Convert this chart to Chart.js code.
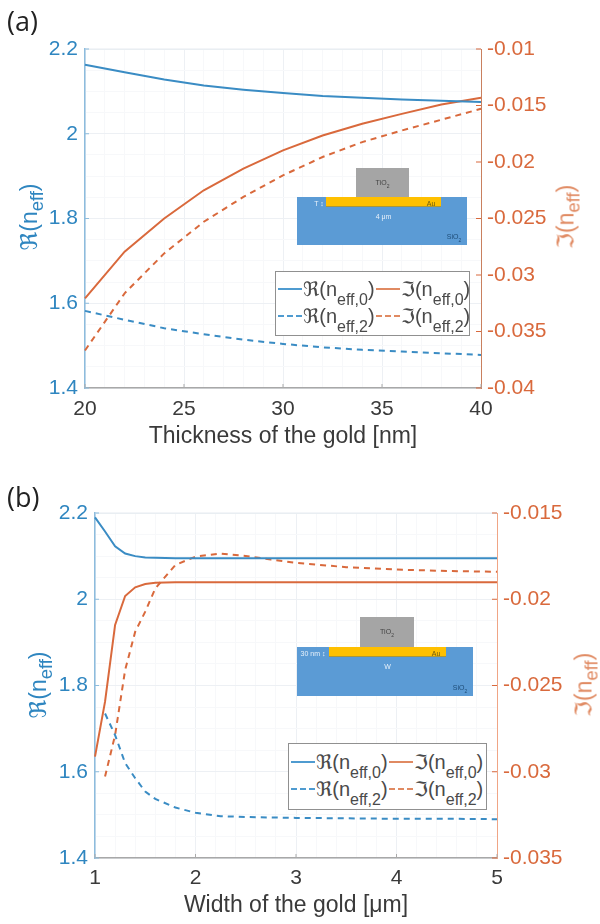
<!DOCTYPE html>
<html>
<head>
  <meta charset="utf-8">
  <title>Effective index vs gold thickness and width</title>
  <script src="https://cdn.jsdelivr.net/npm/chart.js"></script>
  <style>
    html, body { margin: 0; padding: 0; background: #fff; }
    body { width: 600px; height: 924px; position: relative; overflow: hidden; font-family: 'Liberation Sans', 'DejaVu Sans', sans-serif; filter: blur(0.45px); }
    .wrap { position: absolute; left: 0; width: 600px; }
    .panel-label { position: absolute; left: 7px; font: 27px 'Open Sans', sans-serif; color: #222; }
    .ylab { position: absolute; font-size: 23px; white-space: nowrap; transform: translate(-50%, -50%) rotate(-90deg); }
    .ylab sub { font-size: 0.8em; vertical-align: -0.35em; line-height: 0; }
    .blue { color: #2f86c0; }
    .orange { color: #e08a62; }
    .box { position: absolute; }
    .tag { position: absolute; font-size: 7px; transform: translate(-50%, -50%); white-space: nowrap; }
    .legend { position: absolute; box-sizing: border-box; background: #fff; border: 1.5px solid #909090; padding-left: 2px; display: grid; grid-template-columns: 98px 96px; align-content: center; color: #4a4a4a; font-size: 20px; }
    .legend > div { display: flex; align-items: center; white-space: nowrap; height: 30px; margin-top: -3px; }
    .legend sub { font-size: 16px; vertical-align: -9px; line-height: 0; }
    .legend i { display: inline-block; flex: none; width: 24px; margin-right: 1px; border-top-width: 2px; }
  </style>
</head>
<body>
  <div class="wrap" style="top:0;height:450px"><canvas id="chartA"></canvas></div>
  <div class="wrap" style="top:462px;height:457px"><canvas id="chartB"></canvas></div>
  <div class="panel-label" style="top:2px">(a)</div>
  <div class="panel-label" style="top:478px">(b)</div>
  <div class="ylab blue" style="left:29px;top:217px">ℜ(n<sub>eff</sub>)</div>
  <div class="ylab orange" style="left:566px;top:217px">ℑ(n<sub>eff</sub>)</div>
  <div class="ylab blue" style="left:38px;top:685px">ℜ(n<sub>eff</sub>)</div>
  <div class="ylab orange" style="left:584px;top:685px">ℑ(n<sub>eff</sub>)</div>
  <script>
    // (a) thickness sweep
    const thicknessNm = [20, 22, 24, 26, 28, 30, 32, 34, 36, 38, 40];
    const thicknessRe0 = [2.163, 2.145, 2.128, 2.114, 2.104, 2.096, 2.089, 2.085, 2.081, 2.078, 2.075];
    const thicknessIm0 = [-0.03206, -0.02794, -0.025, -0.0225, -0.02059, -0.01897, -0.01765, -0.01662, -0.01574, -0.01491, -0.01432];
    const thicknessRe2 = [1.582, 1.561, 1.541, 1.527, 1.514, 1.504, 1.496, 1.49, 1.486, 1.482, 1.478];
    const thicknessIm2 = [-0.03668, -0.03162, -0.02809, -0.02529, -0.02309, -0.02118, -0.01956, -0.01824, -0.01721, -0.01626, -0.01529];

    // (b) width sweep, mode 2 has no value at 1 um
    const widthUm = [1, 1.1, 1.2, 1.3, 1.4, 1.5, 1.6, 1.8, 2, 2.25, 2.5, 2.75, 3, 3.5, 4, 4.5, 5];
    const widthRe0 = [2.19, 2.157, 2.123, 2.106, 2.1, 2.097, 2.096, 2.095, 2.095, 2.095, 2.095, 2.095, 2.095, 2.095, 2.095, 2.095, 2.095];
    const widthIm0 = [-0.02912, -0.02594, -0.02149, -0.01981, -0.01931, -0.01912, -0.01904, -0.01902, -0.01901, -0.01901, -0.01901, -0.01901, -0.01901, -0.01901, -0.01901, -0.01901, -0.01901];
    const widthRe2 = [null, 1.735, 1.685, 1.62, 1.585, 1.554, 1.537, 1.517, 1.505, 1.497, 1.495, 1.494, 1.493, 1.492, 1.491, 1.491, 1.49];
    const widthIm2 = [null, -0.03028, -0.02787, -0.0241, -0.02188, -0.02072, -0.01937, -0.01801, -0.01753, -0.01735, -0.01749, -0.0177, -0.01789, -0.01814, -0.01828, -0.01836, -0.01841];

    // tick labels
    const reTicks = [1.4, 1.6, 1.8, 2, 2.2];
    const imTicksA = [-0.04, -0.035, -0.03, -0.025, -0.02, -0.015, -0.01];
    const imTicksB = [-0.035, -0.03, -0.025, -0.02, -0.015];
    const xTicksA = [20, 25, 30, 35, 40];
    const xTicksB = [1, 2, 3, 4, 5];

    const BLUE = '#3a8cc4', ORANGE = '#d9693c';
    const TICK_FONT = { family: "'Liberation Sans', sans-serif", size: 21 };

    // MATLAB style ticks pointing into the plot, plus the faint top edge
    const inwardTicks = {
      id: 'inwardTicks',
      afterDatasetsDraw(chart, args, opts) {
        const { ctx, chartArea, scales } = chart;
        ctx.save();
        ctx.lineWidth = 1;
        ctx.strokeStyle = '#e6ebf0';
        ctx.beginPath();
        ctx.moveTo(chartArea.left, chartArea.top);
        ctx.lineTo(chartArea.right, chartArea.top);
        ctx.stroke();
        opts.x.forEach(v => {
          const px = scales.x.getPixelForValue(v);
          ctx.strokeStyle = '#aaa';
          ctx.beginPath();
          ctx.moveTo(px, chartArea.bottom);
          ctx.lineTo(px, chartArea.bottom - 4);
          ctx.stroke();
        });
        opts.y.forEach(v => {
          const py = scales.y.getPixelForValue(v);
          ctx.strokeStyle = '#8dbcdd';
          ctx.beginPath();
          ctx.moveTo(chartArea.left, py);
          ctx.lineTo(chartArea.left + 4, py);
          ctx.stroke();
        });
        opts.y2.forEach(v => {
          const py = scales.y2.getPixelForValue(v);
          ctx.strokeStyle = ORANGE;
          ctx.beginPath();
          ctx.moveTo(chartArea.right, py);
          ctx.lineTo(chartArea.right - 5, py);
          ctx.stroke();
        });
        ctx.restore();
      }
    };

    function series(xs, ys, color, axis, dashed) {
      return {
        data: xs.map((x, i) => ({ x: x, y: ys[i] })),
        yAxisID: axis,
        borderColor: color,
        borderWidth: 2,
        borderDash: dashed ? [6, 5] : [],
        pointRadius: 0,
        tension: 0,
        fill: false,
        clip: false
      };
    }

    function drawPanel(id, o) {
      const isMajor = (list, v) => list.some(t => Math.abs(t - v) < 1e-9);
      const gridColor = list => c => (c.tick && isMajor(list, c.tick.value)) ? '#edf0f4' : '#f7f8fa';
      new Chart(document.getElementById(id), {
        type: 'line',
        data: { datasets: o.datasets },
        plugins: [inwardTicks],
        options: {
          responsive: true,
          maintainAspectRatio: false,
          animation: false,
          layout: { padding: { top: o.top, right: 0, left: 0, bottom: 0 } },
          plugins: {
            legend: { display: false },
            tooltip: { enabled: false },
            inwardTicks: { x: o.xTicks, y: reTicks, y2: o.imTicks }
          },
          scales: {
            x: {
              type: 'linear',
              min: o.xTicks[0],
              max: o.xTicks[o.xTicks.length - 1],
              afterBuildTicks: s => {
                const out = [];
                o.xTicks.slice(0, -1).forEach((t, i) => {
                  const step = (o.xTicks[i + 1] - t) / o.xMinor;
                  for (let k = 0; k < o.xMinor; k++) out.push({ value: t + k * step });
                });
                out.push({ value: o.xTicks[o.xTicks.length - 1] });
                s.ticks = out;
              },
              afterFit: s => { s.height = o.xAxisH; },
              ticks: {
                autoSkip: false, maxRotation: 0, padding: o.xPad, color: '#3a3a3a', font: TICK_FONT,
                callback: v => isMajor(o.xTicks, v) ? String(v) : ''
              },
              grid: { drawTicks: false, color: gridColor(o.xTicks) },
              border: { color: '#a8a8a8', width: 1.5 },
              title: { display: true, text: o.xTitle, color: '#3a3a3a', font: { family: TICK_FONT.family, size: 23 }, padding: 0 }
            },
            y: {
              position: 'left',
              min: 1.4,
              max: 2.2,
              afterBuildTicks: s => {
                const out = [];
                reTicks.slice(0, -1).forEach((t, i) => {
                  for (let k = 0; k < 4; k++) out.push({ value: t + k * 0.05 });
                });
                out.push({ value: 2.2 });
                s.ticks = out;
              },
              afterFit: s => { s.width = o.left; },
              ticks: {
                autoSkip: false, padding: 7, color: '#2f86c0', font: TICK_FONT,
                callback: v => isMajor(reTicks, v) ? String(Math.round(v * 10) / 10) : ''
              },
              grid: { drawTicks: false, color: gridColor(reTicks) },
              border: { color: '#8dbcdd', width: 1.5 }
            },
            y2: {
              position: 'right',
              min: o.imTicks[0],
              max: o.imTicks[o.imTicks.length - 1],
              afterBuildTicks: s => { s.ticks = o.imTicks.map(v => ({ value: v })); },
              afterFit: s => { s.width = 600 - o.right; },
              ticks: {
                autoSkip: false, padding: 6, color: ORANGE, font: TICK_FONT,
                callback: v => String(Math.round(v * 1000) / 1000)
              },
              grid: { display: false, drawTicks: false },
              border: { color: o.rightEdge }
            }
          }
        }
      });
    }

    drawPanel('chartA', {
      top: 49, left: 85, right: 481, xAxisH: 450 - 388, xPad: 9,
      xTicks: xTicksA, xMinor: 5, imTicks: imTicksA, rightEdge: '#c9805f',
      xTitle: 'Thickness of the gold [nm]',
      datasets: [
        series(thicknessNm, thicknessRe0, BLUE, 'y', false),
        series(thicknessNm, thicknessIm0, ORANGE, 'y2', false),
        series(thicknessNm, thicknessRe2, BLUE, 'y', true),
        series(thicknessNm, thicknessIm2, ORANGE, 'y2', true)
      ]
    });

    drawPanel('chartB', {
      top: 513 - 462, left: 95, right: 497, xAxisH: 919 - 858, xPad: 8,
      xTicks: xTicksB, xMinor: 5, imTicks: imTicksB, rightEdge: '#f0a585',
      xTitle: 'Width of the gold [μm]',
      datasets: [
        series(widthUm, widthRe0, BLUE, 'y', false),
        series(widthUm, widthIm0, ORANGE, 'y2', false),
        series(widthUm, widthRe2, BLUE, 'y', true),
        series(widthUm, widthIm2, ORANGE, 'y2', true)
      ]
    });

    // html legend, canvas legend cannot do subscripts
    function addLegend(left, top, width, height) {
      const el = document.createElement('div');
      el.className = 'legend';
      el.style.cssText = `left:${left}px;top:${top}px;width:${width}px;height:${height}px`;
      [['ℜ', '0', '#4f9bd0', 'solid'], ['ℑ', '0', '#e08a62', 'solid'], ['ℜ', '2', '#4f9bd0', 'dashed'], ['ℑ', '2', '#e08a62', 'dashed']].forEach(r => {
        const item = document.createElement('div');
        item.innerHTML = `<i style="border-top-style:${r[3]};border-top-color:${r[2]}"></i><span>${r[0]}(n<sub>eff,${r[1]}</sub>)</span>`;
        el.appendChild(item);
      });
      document.body.appendChild(el);
    }
    addLegend(275, 271, 195, 65);
    addLegend(288, 743, 199, 67);

    // waveguide cross-section sketch
    function addInset(i) {
      const box = (x, y, w, h, css) => {
        const d = document.createElement('div');
        d.className = 'box';
        d.style.cssText = `left:${x}px;top:${y}px;width:${w}px;height:${h}px;${css}`;
        document.body.appendChild(d);
      };
      const tag = (x, y, text, color) => {
        const d = document.createElement('div');
        d.className = 'tag';
        d.style.cssText = `left:${x}px;top:${y}px;color:${color}`;
        d.innerHTML = text;
        document.body.appendChild(d);
      };
      box(i.bx, i.by, i.bw, i.bh, 'background:#5b9bd5');
      box(i.gx, i.gy, i.gw, i.by - i.gy, 'background:#a5a5a5');
      box(i.ax, i.by, i.aw, 10, 'background:#ffc000;border-bottom:1px solid #a8963c;box-sizing:border-box');
      tag(i.gx + i.gw / 2, i.gy + 16, 'TiO<sub style="font-size:5px">2</sub>', '#444');
      tag(i.ax + i.aw - 10, i.by + 6, 'Au', '#6b5a10');
      tag(i.bx + i.bw - 13, i.by + i.bh - 7, 'SiO<sub style="font-size:5px">2</sub>', '#1f4e79');
      tag(i.thickX, i.by + 6, i.thick, '#e8f1fa');
      tag(i.ax + i.aw / 2, i.by + 19, i.wide, '#e8f1fa');
    }
    addInset({ bx: 297, by: 197, bw: 170, bh: 48, gx: 356, gy: 168, gw: 53, ax: 326, aw: 115, thickX: 319, thick: 'T ↕', wide: '4 μm' });
    addInset({ bx: 297, by: 647, bw: 176, bh: 49, gx: 360, gy: 617, gw: 54, ax: 329, aw: 117, thickX: 313, thick: '30 nm ↕', wide: 'W' });
  </script>
</body>
</html>
